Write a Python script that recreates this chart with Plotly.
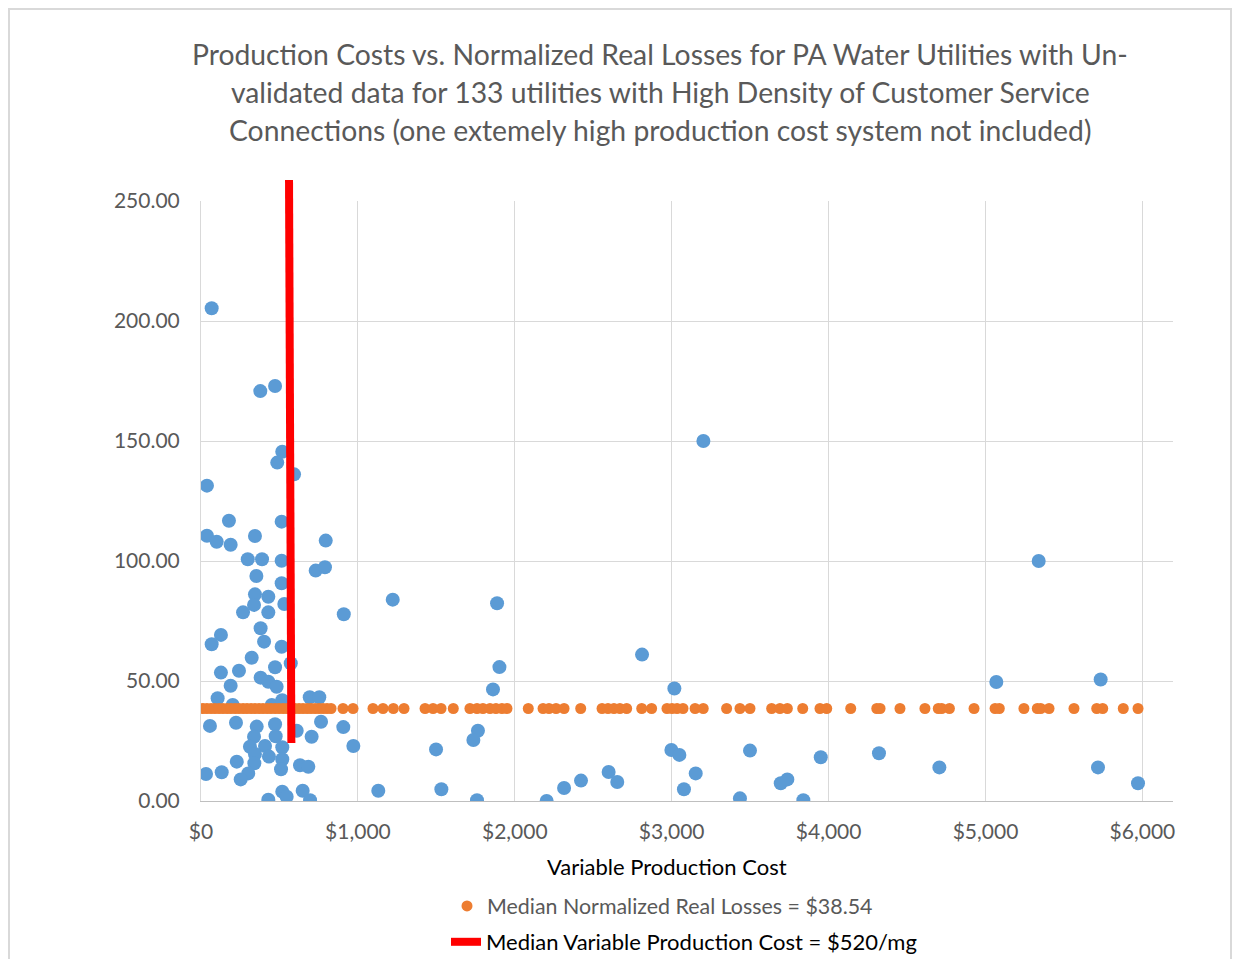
import plotly.graph_objects as go

# ---------------- data ----------------
cost_x = [68, 378, 472, 3202, 5339, 518, 486, 593, 38, 178, 514, 38, 100, 189, 344, 795,
          298, 389, 514, 731, 790, 353, 514, 344, 429, 531, 338, 268, 429, 910, 380, 402,
          127, 68, 514, 323, 572, 472, 242, 127, 380, 429, 189, 482, 106, 202, 451, 518,
          693, 754, 765, 57, 223, 907, 355, 472, 610, 705, 338, 476, 312, 408, 518, 344,
          433, 518, 228, 340, 631, 684, 510, 32, 132, 301, 253, 518, 546, 429, 648, 695,
          1222, 1887, 1902, 2811, 1861, 3017, 971, 1498, 1765, 1736, 1130, 1532, 1759, 2203,
          2314, 2422, 2598, 2653, 2998, 3049, 3078, 3153, 5069, 5734, 3499, 3435, 3695, 3737,
          3839, 3950, 4321, 4706, 5717, 5972]
loss_y = [205.3, 170.8, 172.9, 150.0, 100.0, 145.5, 141.0, 136.1, 131.4, 116.8, 116.4, 110.5,
          108.0, 106.8, 110.4, 108.5, 100.7, 100.7, 100.1, 96.0, 97.4, 93.75, 90.7, 86.1, 85.1,
          82.1, 81.7, 78.6, 78.6, 77.8, 72.0, 66.4, 69.2, 65.3, 64.3, 59.7, 57.4, 55.7, 54.3,
          53.5, 51.4, 49.7, 48.0, 47.6, 42.8, 40.0, 40.0, 42.0, 43.2, 43.2, 33.0, 31.3, 32.6,
          30.8, 31.0, 32.0, 29.3, 26.8, 26.8, 27.0, 22.6, 22.9, 22.4, 19.6, 18.5, 17.4, 16.4,
          15.7, 14.9, 14.3, 13.2, 11.25, 12.0, 11.5, 9.0, 3.9, 1.8, 0.5, 4.3, 0.3,
          83.9, 82.4, 55.8, 61.0, 46.5, 46.9, 22.9, 21.5, 29.3, 25.4, 4.3, 4.9, 0.3, 0.0,
          5.4, 8.5, 12.1, 7.9, 21.25, 19.2, 4.9, 11.5, 49.6, 50.6, 21.0, 1.1, 7.4, 9.0,
          0.3, 18.2, 19.9, 14.0, 14.0, 7.4]

median_loss_x = [13, 38, 64, 89, 115, 140, 166, 191, 217, 242, 268, 293, 319, 344, 370, 395,
                 421, 446, 472, 497, 523, 548, 574, 599, 625, 650, 676, 701, 727, 752, 778,
                 803, 829, 905, 969, 1096, 1160, 1226, 1294, 1428, 1479, 1530, 1608, 1714,
                 1759, 1797, 1842, 1880, 1918, 1950, 2086, 2180, 2218, 2263, 2314, 2420, 2556,
                 2594, 2632, 2670, 2713, 2809, 2872, 2970, 3002, 3034, 3072, 3149, 3201, 3350,
                 3435, 3499, 3637, 3690, 3737, 3835, 3945, 3988, 4141, 4307, 4328, 4455, 4614,
                 4699, 4721, 4770, 4927, 5061, 5088, 5245, 5330, 5352, 5405, 5564, 5709, 5747,
                 5878, 5972]
median_loss_value = 38.54

median_cost_x = [561, 576]
median_cost_y = [258.75, 24.2]

x_ticks = [0, 1000, 2000, 3000, 4000, 5000, 6000]
x_tick_labels = ["$0", "$1,000", "$2,000", "$3,000", "$4,000", "$5,000", "$6,000"]
y_ticks = [0, 50, 100, 150, 200, 250]
y_tick_labels = ["0.00", "50.00", "100.00", "150.00", "200.00", "250.00"]

title_lines = [
    "Production Costs vs. Normalized Real Losses for PA Water Utilities with Un-",
    "validated data for 133 utilities with High Density of Customer Service",
    "Connections (one extemely high production cost system not included)",
]
x_title = "Variable Production Cost"
legend_loss = "Median Normalized Real Losses = $38.54"
legend_cost = "Median Variable Production Cost = $520/mg"

# ---------------- layout geometry (page is offset by the 8px body margin) ----------------
OFF = 8
W, H = 1240 - 2 * OFF, 967 - 2 * OFF
PLOT_L, PLOT_R, PLOT_T, PLOT_B = 201 - OFF, 1173 - OFF, 180 - OFF, 801 - OFF
L, R, T, B = PLOT_L, W - PLOT_R, PLOT_T, H - PLOT_B
plot_w = W - L - R
plot_h = H - T - B
main_top = (PLOT_B - (201 - OFF)) / plot_h

FONT = "Lato"
GRAY = "#595959"


def px_x(p):
    """screen x of the reference -> paper fraction"""
    return (p - OFF - L) / plot_w


def px_y(p):
    """screen y of the reference -> paper fraction"""
    return (PLOT_B - (p - OFF)) / plot_h


def cx(p):
    """screen x of the reference -> container fraction"""
    return (p - OFF) / W


def cy(p):
    """screen y of the reference -> container fraction"""
    return 1 - (p - OFF) / H


fig = go.Figure()
fig.add_trace(go.Scatter(
    x=cost_x, y=loss_y, mode="markers",
    marker=dict(color="#5B9BD5", size=14), showlegend=False,
    name="Normalized Real Losses", xaxis="x", yaxis="y"))
fig.add_trace(go.Scatter(
    x=median_loss_x, y=[median_loss_value] * len(median_loss_x), mode="markers",
    marker=dict(color="#ED7D31", size=11),
    name=f"<span style='color:{GRAY}'>{legend_loss}</span>", xaxis="x", yaxis="y",
    legend="legend"))
fig.add_trace(go.Scatter(
    x=median_cost_x, y=median_cost_y, mode="lines",
    line=dict(color="#FF0000", width=8),
    name=legend_cost, xaxis="x2", yaxis="y2", legend="legend2"))

annotations = []
for i, line in enumerate(title_lines):
    annotations.append(dict(
        text=line, xref="paper", yref="paper", x=px_x(660), y=px_y(54 + 38 * i),
        xanchor="center", yanchor="middle", showarrow=False,
        font=dict(family=FONT, size=28.3, color=GRAY)))
annotations.append(dict(
    text=x_title, xref="paper", yref="paper", x=px_x(667), y=px_y(866),
    xanchor="center", yanchor="middle", showarrow=False,
    font=dict(family=FONT, size=22, color="#000000")))

fig.update_layout(
    width=W, height=H,
    margin=dict(l=L, r=R, t=T, b=B, pad=0, autoexpand=False),
    paper_bgcolor="white", plot_bgcolor="rgba(0,0,0,0)",
    font=dict(family=FONT, size=21, color=GRAY),
    xaxis=dict(domain=[0, 1], range=[0, 6195], tickvals=x_ticks, ticktext=x_tick_labels,
               showgrid=True, gridcolor="#D9D9D9", gridwidth=1,
               zeroline=False, showline=True, linecolor="#BFBFBF", linewidth=1,
               ticks="", ticklabelstandoff=12, anchor="y", automargin=False,
               tickfont=dict(family=FONT, size=21, color=GRAY)),
    yaxis=dict(domain=[0, main_top], range=[0, 250], tickvals=y_ticks,
               ticktext=y_tick_labels,
               showgrid=True, gridcolor="#D9D9D9", gridwidth=1, zeroline=False,
               showline=True, linecolor="#D9D9D9", linewidth=1, ticks="",
               ticklabelstandoff=16, anchor="x", automargin=False,
               tickfont=dict(family=FONT, size=21, color=GRAY)),
    xaxis2=dict(domain=[0, 1], matches="x", visible=False, showgrid=False,
                zeroline=False, anchor="y2"),
    yaxis2=dict(domain=[0, 1], range=[0, 258.75], visible=False, showgrid=False,
                zeroline=False, anchor="x2"),
    legend=dict(xref="container", yref="container", x=cx(447), y=cy(906),
                xanchor="left", yanchor="middle",
                orientation="v", bgcolor="rgba(0,0,0,0)",
                font=dict(family=FONT, size=21.4, color="#000000"),
                itemwidth=30),
    legend2=dict(xref="container", yref="container", x=cx(446), y=cy(942),
                 xanchor="left", yanchor="middle",
                 orientation="v", bgcolor="rgba(0,0,0,0)",
                 font=dict(family=FONT, size=22, color="#000000"),
                 itemwidth=30),
    annotations=annotations,
    shapes=[dict(type="rect", xref="paper", yref="paper",
                 x0=(1 - L) / plot_w, x1=(W - 1 - L) / plot_w,
                 y0=-1.0, y1=(PLOT_B - 1) / plot_h,
                 line=dict(color="#D9D9D9", width=2), fillcolor="rgba(0,0,0,0)",
                 layer="below")],
    showlegend=True,
)

fig.write_html("out.html")
